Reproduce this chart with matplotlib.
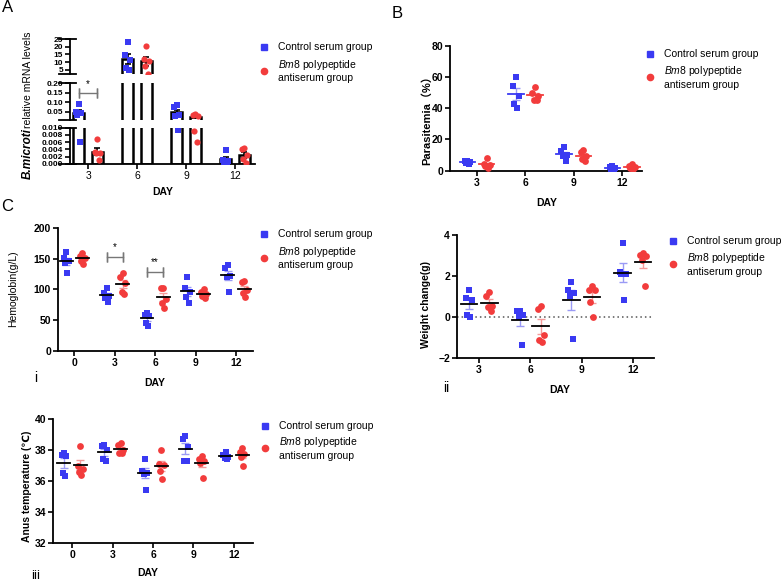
import numpy as np
import matplotlib
matplotlib.use('Agg')
import matplotlib.pyplot as plt
from matplotlib.lines import Line2D

plt.rcParams['font.family'] = ['Liberation Sans', 'DejaVu Sans']
plt.rcParams['mathtext.fontset'] = 'custom'
plt.rcParams['mathtext.rm'] = 'Liberation Sans'
plt.rcParams['mathtext.it'] = 'Liberation Sans:italic'
plt.rcParams['mathtext.bf'] = 'Liberation Sans:bold'

# ---------------- data ----------------
days_a = ['3', '6', '9', '12']
mrna_control = [[0.092, 0.05, 0.045, 0.035, 0.006],
                [22.8, 14.4, 11.1, 6.1, 5.0],
                [0.085, 0.075, 0.035, 0.03, 0.0094],
                [0.0038, 0.001, 0.0008, 0.0006, 0.0005]]
mrna_bm8 = [[0.0068, 0.0033, 0.003, 0.0029, 0.0012],
            [20.2, 12.0, 10.5, 7.2, 2.5],
            [0.04, 0.035, 0.03, 0.009, 0.006],
            [0.0043, 0.004, 0.0025, 0.0015, 0.0003]]

days_b = ['3', '6', '9', '12']
para_control = [[6.3, 6.0, 5.5, 5.0, 4.2],
                [60.1, 54.2, 48.0, 43.0, 40.0],
                [14.9, 12.3, 10.0, 9.3, 5.9],
                [2.9, 2.1, 1.6, 1.2, 1.0]]
para_bm8 = [[8.0, 4.0, 3.5, 3.0, 2.0],
            [53.3, 50.0, 48.0, 45.2, 45.0],
            [13.2, 11.7, 9.3, 7.8, 5.9],
            [4.0, 3.1, 2.5, 1.9, 1.4]]

days_c = ['0', '3', '6', '9', '12']
hb_control = [[160.8, 152, 146.6, 143.9, 126.4],
              [102, 95, 89.4, 86.6, 80],
              [61, 58.3, 57.2, 45.8, 40.9],
              [121, 102.9, 96.3, 88, 77.4],
              [140, 135.7, 122, 121, 96.3]]
hb_bm8 = [[160, 155, 151, 146, 142],
          [126.5, 121, 110, 95.4, 92.7],
          [102.9, 101.8, 84.5, 77.4, 69.2],
          [100, 96, 93, 89, 86],
          [113.9, 111.7, 99.2, 93.6, 88]]

days_w = ['3', '6', '9', '12']
wt_control = [[1.31, 0.9, 0.8, 0.1, -0.03],
              [0.3, 0.3, 0.1, 0.0, -1.4],
              [1.72, 1.31, 1.14, 1.0, -1.1],
              [3.62, 2.2, 2.1, 2.08, 0.8]]
wt_bm8 = [[1.2, 1.0, 0.52, 0.47, 0.3],
          [0.52, 0.4, -0.9, -1.15, -1.22],
          [1.5, 1.3, 1.3, 0.7, 0.0],
          [3.13, 3.0, 2.95, 2.8, 1.5]]

days_t = ['0', '3', '6', '9', '12']
temp_control = [[37.84, 37.69, 37.6, 36.5, 36.3],
                [38.34, 38.3, 38.0, 37.4, 37.3],
                [37.4, 36.67, 36.54, 36.45, 35.4],
                [38.92, 38.7, 38.23, 37.3, 37.3],
                [37.9, 37.7, 37.58, 37.46, 37.4]]
temp_bm8 = [[38.3, 37.0, 36.8, 36.6, 36.4],
            [38.44, 38.34, 38.0, 37.84, 37.8],
            [38.0, 37.08, 37.05, 36.65, 36.1],
            [37.62, 37.45, 37.3, 37.15, 36.2],
            [38.12, 37.9, 37.73, 37.58, 37.0]]

label_control = 'Control serum group'
label_bm8 = '$\\it{Bm}$8 polypeptide\nantiserum group'

# ---------------- style ----------------
BLUE = '#3a3af2'
RED = '#f23c3c'
LBLUE = '#9a9af5'
LRED = '#f59a9a'
W, H = 783, 584
JIT = [0.0, -0.06, 0.06, -0.03, 0.03, 0.0]

fig = plt.figure(figsize=(W / 100, H / 100), dpi=100)


def ax_px(x0, y0, x1, y1):
    return fig.add_axes([x0 / W, 1 - y1 / H, (x1 - x0) / W, (y1 - y0) / H])


def style_ax(ax, fs=7.5):
    for s in ['top', 'right']:
        ax.spines[s].set_visible(False)
    for s in ['left', 'bottom']:
        ax.spines[s].set_linewidth(1.3)
    ax.tick_params(direction='out', length=3.5, width=1.2, labelsize=fs, pad=1.5)
    for lab in ax.get_xticklabels() + ax.get_yticklabels():
        lab.set_fontweight('bold')


def fx(x):
    return x / W


def fy(y):
    return 1 - y / H


def legend_px(x, y1, y2, fs=7.5):
    fig.add_artist(Line2D([fx(x)], [fy(y1)], marker='s', color=BLUE, ls='none',
                          markersize=4.5, transform=fig.transFigure))
    fig.add_artist(Line2D([fx(x)], [fy(y2)], marker='o', color=RED, ls='none',
                          markersize=4.5, transform=fig.transFigure))
    fig.text(fx(x + 14), fy(y1), label_control, fontsize=fs, va='center', ha='left')
    fig.text(fx(x + 14), fy(y2), label_bm8, fontsize=fs, va='center', ha='left',
             linespacing=1.15)


def sem(v):
    v = np.asarray(v, float)
    return v.std(ddof=1) / np.sqrt(len(v))


def scatter_panel(ax, ctrl, bm8, mean_color_c, mean_color_r, err_c, err_r, start=0):
    off = 0.2
    for i, (c, r) in enumerate(zip(ctrl, bm8)):
        xc = start + i - off
        xr = start + i + off
        for j, v in enumerate(c):
            ax.scatter(xc + JIT[j], v, marker='s', s=22, color=BLUE, zorder=3, linewidths=0)
        for j, v in enumerate(r):
            ax.scatter(xr + JIT[j], v, marker='o', s=24, color=RED, zorder=3, linewidths=0)
        for x, vals, mc, ec in [(xc, c, mean_color_c, err_c), (xr, r, mean_color_r, err_r)]:
            m = np.mean(vals)
            ax.errorbar(x, m, yerr=sem(vals), color=ec, capsize=3, lw=1.0, capthick=1.0, zorder=2)
            ax.plot([x - 0.16, x + 0.16], [m, m], color=mc, lw=1.3, zorder=4)


def bracket(ax, x1, x2, y, text, ty):
    ax.plot([x1, x2], [y, y], color='#777777', lw=1.0)
    ax.plot([x1, x1], [y, y], marker='|', color='#777777', ms=7, mew=1.0)
    ax.plot([x2, x2], [y, y], marker='|', color='#777777', ms=7, mew=1.0)
    ax.text((x1 + x2) / 2, ty, text, ha='center', va='center', fontsize=7)


# ---------------- Panel A (broken axis bar chart) ----------------
segs = [((70, 39, 255, 74), (2.2, 25), [5, 10, 15, 20, 25], '{:.0f}'),
        ((70, 83.3, 255, 119.5), (0.01, 0.20), [0.05, 0.10, 0.15, 0.20], '{:.2f}'),
        ((70, 127.7, 255, 164), (0, 0.010), [0, 0.002, 0.004, 0.006, 0.008, 0.010], '{:.3f}')]
xs_a = np.arange(1, len(days_a) + 1)
bw = 0.23
offa = 0.19
axesA = []
for k, (rect, ylim, ticks, fmt) in enumerate(segs):
    ax = ax_px(*rect)
    axesA.append(ax)
    ax.set_xlim(0.63, 4.41)
    ax.set_ylim(*ylim)
    ax.set_yticks(ticks)
    ax.set_yticklabels([fmt.format(t) for t in ticks])
    ax.set_facecolor('none')
    style_ax(ax, fs=6)
    ax.spines['left'].set_bounds(*ylim)
    if k < 2:
        ax.spines['bottom'].set_visible(False)
        ax.set_xticks([])
    else:
        ax.set_xticks(xs_a)
        ax.set_xticklabels(days_a)
        for lab in ax.get_xticklabels():
            lab.set_fontweight('normal')
            lab.set_fontsize(7.5)
    # break caps
    for yy in ylim:
        ax.plot([-0.06, 0.03], [yy, yy], transform=ax.get_yaxis_transform(),
                color='black', lw=1.3, clip_on=False)
    lo, hi = ylim
    for i in range(len(days_a)):
        for x, vals, col, mk in [(xs_a[i] - offa, mrna_control[i], BLUE, 's'),
                                 (xs_a[i] + offa, mrna_bm8[i], RED, 'o')]:
            m = np.mean(vals)
            e = sem(vals)
            ax.bar(x, m, width=bw, facecolor='none', edgecolor='black', lw=1.8, zorder=2)
            if lo <= m <= hi:
                ax.errorbar(x, m, yerr=e, color='black', capsize=2.5, lw=1.2,
                            capthick=1.2, zorder=2)
            for j, v in enumerate(vals):
                if lo <= v <= hi:
                    ax.scatter(x + JIT[j] * 0.9, v, marker=mk, s=20, color=col, zorder=3,
                               linewidths=0)
bracket(axesA[1], xs_a[0] - offa, xs_a[0] + offa, 0.15, '*', 0.195)

fig.text(fx(28), fy(179), 'B.microti', rotation=90, ha='center', va='bottom',
         fontsize=8.5, fontstyle='italic', fontweight='bold')
fig.text(fx(28), fy(128), 'relative mRNA levels', rotation=90, ha='center', va='bottom',
         fontsize=7.5)
fig.text(fx(163), fy(192), 'DAY', ha='center', va='center', fontsize=7.5, fontweight='bold')
fig.text(fx(7.5), fy(8), 'A', ha='center', va='center', fontsize=12)
legend_px(264, 46.7, 70.7)

# ---------------- Panel B ----------------
axB = ax_px(450, 45.7, 642, 170.7)
axB.set_xlim(0.44, 4.41)
axB.set_ylim(0, 80)
axB.set_yticks([0, 20, 40, 60, 80])
axB.set_xticks(np.arange(1, 5))
axB.set_xticklabels(days_b)
style_ax(axB)
scatter_panel(axB, para_control, para_bm8, BLUE, RED, LBLUE, LRED, start=1)
fig.text(fx(427), fy(118), 'Parasitemia（%）', rotation=90, ha='center', va='center',
         fontsize=8, fontweight='bold', family=['Liberation Sans', 'Noto Sans CJK SC', 'DejaVu Sans'])
fig.text(fx(547), fy(203), 'DAY', ha='center', va='center', fontsize=7.5, fontweight='bold')
fig.text(fx(397), fy(13), 'B', ha='center', va='center', fontsize=12)
legend_px(650, 54, 77)

# ---------------- Panel C i ----------------
axC1 = ax_px(58, 228.3, 253, 350.7)
axC1.set_xlim(-0.4, 4.42)
axC1.set_ylim(0, 200)
axC1.set_yticks([0, 50, 100, 150, 200])
axC1.set_xticks(np.arange(5))
axC1.set_xticklabels(days_c)
style_ax(axC1)
scatter_panel(axC1, hb_control, hb_bm8, 'black', 'black', LBLUE, LRED, start=0)
bracket(axC1, 1 - 0.2, 1 + 0.2, 152.6, '*', 170)
bracket(axC1, 2 - 0.2, 2 + 0.2, 128, '**', 145)
fig.text(fx(13.5), fy(289), 'Hemoglobin(g/L)', rotation=90, ha='center', va='center',
         fontsize=7.5)
fig.text(fx(155), fy(383), 'DAY', ha='center', va='center', fontsize=7.5, fontweight='bold')
fig.text(fx(7.5), fy(207), 'C', ha='center', va='center', fontsize=12)
fig.text(fx(36), fy(378), 'i', ha='center', va='center', fontsize=10)
legend_px(264, 234, 257.7)

# ---------------- Panel C ii ----------------
axC2 = ax_px(457, 235, 654, 357.7)
axC2.set_xlim(0.57, 4.41)
axC2.set_ylim(-2, 4)
axC2.set_yticks([-2, 0, 2, 4])
axC2.set_xticks(np.arange(1, 5))
axC2.set_xticklabels(days_w)
style_ax(axC2)
axC2.axhline(0, color='#555555', lw=1.1, ls=(0, (1, 2)), zorder=1)
scatter_panel(axC2, wt_control, wt_bm8, 'black', 'black', LBLUE, LRED, start=1)
fig.text(fx(426), fy(304), 'Weight change(g)', rotation=90, ha='center', va='center',
         fontsize=7.5, fontweight='bold')
fig.text(fx(560), fy(390), 'DAY', ha='center', va='center', fontsize=7.5, fontweight='bold')
fig.text(fx(446), fy(388), 'ii', ha='center', va='center', fontsize=10)
legend_px(673, 241, 264, fs=7.5)

# ---------------- Panel C iii ----------------
axC3 = ax_px(53, 419.3, 253, 542.7)
axC3.set_xlim(-0.47, 4.47)
axC3.set_ylim(32, 40)
axC3.set_yticks([32, 34, 36, 38, 40])
axC3.set_xticks(np.arange(5))
axC3.set_xticklabels(days_t)
style_ax(axC3)
scatter_panel(axC3, temp_control, temp_bm8, 'black', 'black', LBLUE, LRED, start=0)
fig.text(fx(27.5), fy(486), 'Anus temperature (℃)', rotation=90, ha='center', va='center',
         fontsize=7.5, fontweight='bold', family=['Liberation Sans', 'DejaVu Sans'])
fig.text(fx(148), fy(573), 'DAY', ha='center', va='center', fontsize=7.5, fontweight='bold')
fig.text(fx(36), fy(576), 'iii', ha='center', va='center', fontsize=9.5)
legend_px(265, 426, 448)

fig.savefig('out.png', dpi=100)
